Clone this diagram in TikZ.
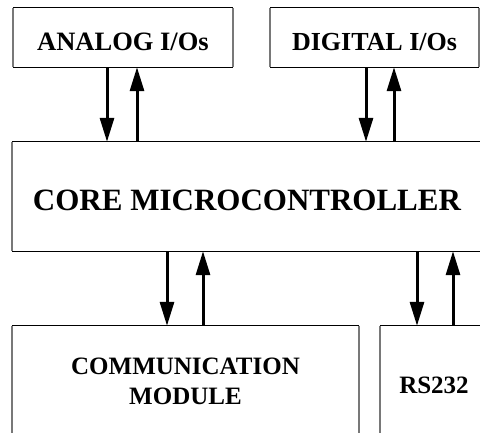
\documentclass[tikz,border=0pt]{standalone}
\usepackage{fontspec}
\setmainfont{Liberation Serif}
\usetikzlibrary{arrows.meta}
\tikzset{
  boxnode/.style={rectangle, draw=none, inner sep=0pt, align=center, font=\bfseries},
  vside/.style={draw={rgb,255:red,120;green,120;blue,120}, line width=1.6pt},
  hside/.style={draw=black, line width=1pt},
  arr/.style={line width=3pt, -{Triangle[length=24pt,width=14pt]}},
}
\begin{document}
\begin{tikzpicture}[x=1pt,y=-1pt]
\useasboundingbox (0,0) rectangle (480,432);
\clip (0,0) rectangle (480,432);
\node[boxnode, minimum width=220pt, minimum height=59pt, text height=25pt, text depth=0pt, font=\bfseries\fontsize{26.5}{30}\selectfont] (analog) at (123,37.5) {ANALOG I/Os};
\node[boxnode, minimum width=209pt, minimum height=59pt, text height=25pt, text depth=0pt, font=\bfseries\fontsize{26}{30}\selectfont] (digital) at (374.5,37.5) {DIGITAL I/Os};
\node[boxnode, minimum width=470pt, minimum height=109pt, text height=27pt, text depth=0pt, font=\bfseries\fontsize{31}{36}\selectfont] (core) at (247,196.5) {CORE MICROCONTROLLER};
\node[boxnode, minimum width=347pt, minimum height=110pt, font=\bfseries\fontsize{25}{30}\selectfont] (comm) at (185.5,381) {COMMUNICATION\\MODULE};
\node[boxnode, minimum width=108pt, minimum height=110pt, text height=24pt, text depth=0pt, font=\bfseries\fontsize{25}{30}\selectfont] (rs) at (434,381) {RS232};
\foreach \b in {analog,digital,core,comm,rs}{
  \draw[vside] (\b.north west) -- (\b.south west) (\b.north east) -- (\b.south east);
  \draw[hside] (\b.north west) -- (\b.north east) (\b.south west) -- (\b.south east);
}
\draw[arr] (107,0 |- analog.south) -- (107,0 |- core.north);
\draw[arr] (137,0 |- core.north) -- (137,0 |- analog.south);
\draw[arr] (366,0 |- digital.south) -- (366,0 |- core.north);
\draw[arr] (394,0 |- core.north) -- (394,0 |- digital.south);
\draw[arr] (167,0 |- core.south) -- (167,0 |- comm.north);
\draw[arr] (203,0 |- comm.north) -- (203,0 |- core.south);
\draw[arr] (417,0 |- core.south) -- (417,0 |- rs.north);
\draw[arr] (453,0 |- rs.north) -- (453,0 |- core.south);
\end{tikzpicture}
\end{document}
